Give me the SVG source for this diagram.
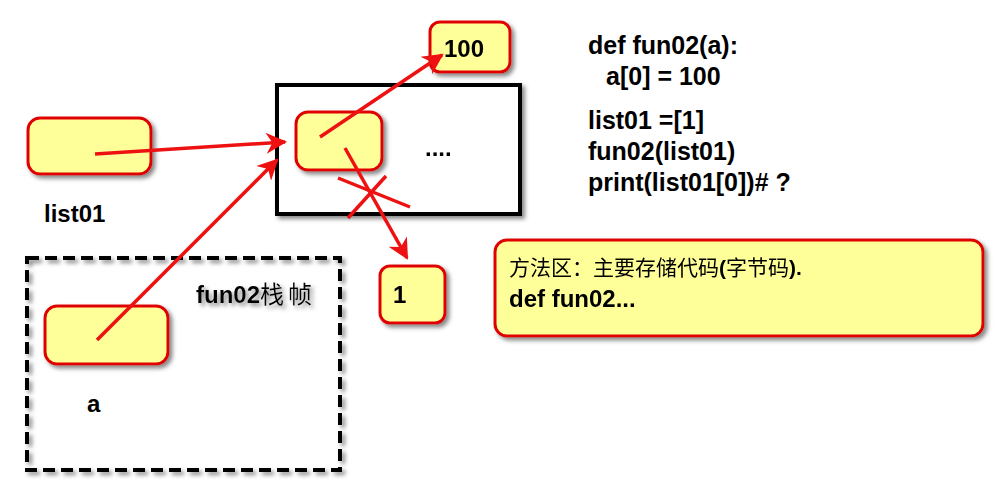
<svg xmlns="http://www.w3.org/2000/svg" width="1006" height="500" viewBox="0 0 1006 500">
<style>
.b{fill:#ffff99;stroke:#e00000;stroke-width:3}
.t{font-family:"Liberation Sans",Arial,sans-serif;font-weight:bold;font-size:24px;fill:#000}
.k{font-size:25px}
.c{font-family:"Liberation Sans","Noto Sans CJK SC",sans-serif;font-size:21px}
.a{stroke:#ee1111;stroke-width:3.5;fill:none}
</style>
<defs>
<filter id="s" x="-10%" y="-10%" width="130%" height="130%"><feDropShadow dx="3" dy="3" stdDeviation="2" flood-color="#888"/></filter>
<marker id="m" viewBox="0 0 10 10" refX="9" refY="5" markerWidth="8" markerHeight="6" orient="auto" markerUnits="strokeWidth"><path d="M0,0L10,5L0,10L3,5z" fill="#ee1111"/></marker>
</defs>
<rect width="1006" height="500" fill="#fff"/>
<g id="heap" filter="url(#s)"><rect x="277" y="85" width="243" height="129" fill="#fff" stroke="#000" stroke-width="4"/><text x="425" y="156" class="t">....</text></g>
<g id="frame" filter="url(#s)"><rect x="27" y="258" width="313" height="212" fill="none" stroke="#000" stroke-width="4" stroke-dasharray="12,6"/><text x="196" y="303" class="t">fun02<tspan font-weight="normal" font-family="Noto Sans CJK SC,sans-serif" letter-spacing="4">栈帧</tspan></text></g>
<g id="list01" filter="url(#s)"><rect x="28" y="118" width="123" height="56" rx="12" class="b"/></g>
<text x="44" y="222" class="t">list01</text>
<g id="a" filter="url(#s)"><rect x="45" y="306" width="123" height="58" rx="12" class="b"/></g>
<text x="87" y="412" class="t">a</text>
<g id="inner" filter="url(#s)"><rect x="296" y="112" width="86" height="58" rx="12" class="b"/></g>
<g id="n100" filter="url(#s)"><rect x="430" y="22" width="80" height="50" rx="10" class="b"/><text x="444" y="57" class="t">100</text></g>
<g id="n1" filter="url(#s)"><rect x="380" y="266" width="65" height="57" rx="10" class="b"/><text x="393" y="303" class="t">1</text></g>
<g id="code"><text class="t k"><tspan x="588" y="54">def fun02(a):</tspan><tspan x="606" y="85">a[0] = 100</tspan><tspan x="588" y="129">list01 =[1]</tspan><tspan x="588" y="160">fun02(list01)</tspan><tspan x="588" y="191">print(list01[0])# ?</tspan></text></g>
<g id="note" filter="url(#s)"><rect x="495" y="240" width="488" height="96" rx="12" class="b"/><text x="509" y="275" class="c">方法区：主要存储代码<tspan font-weight="bold">(</tspan>字节码<tspan font-weight="bold">).</tspan></text><text x="509" y="307" class="t">def fun02...</text></g>
<g id="connectors">
<line x1="95" y1="154" x2="285" y2="142" class="a" marker-end="url(#m)"/>
<line x1="97" y1="340" x2="277" y2="160" class="a" marker-end="url(#m)"/>
<line x1="320" y1="137" x2="442" y2="55" class="a" marker-end="url(#m)"/>
<line x1="345" y1="148" x2="407" y2="258" class="a" marker-end="url(#m)"/>
<line x1="338" y1="178" x2="410" y2="207" class="a"/>
<line x1="348" y1="218" x2="386" y2="176" class="a"/>
</g>
</svg>
